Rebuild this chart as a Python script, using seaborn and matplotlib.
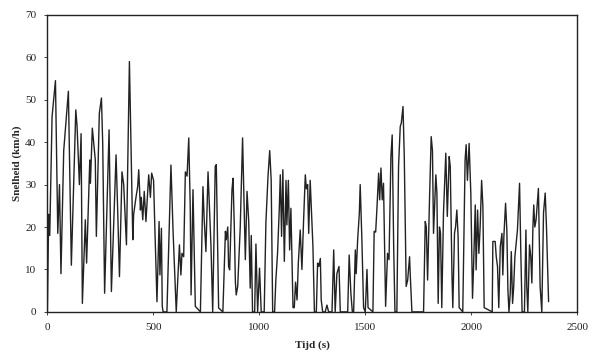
# Speed profile: Snelheid (km/h) tegen Tijd (s)
import pandas as pd
import seaborn as sns
import matplotlib.pyplot as plt

# Vertices of the trace
tijd = [0, 6, 11, 22, 38, 49, 57, 64, 77, 99, 113, 134, 140, 151, 159, 165,
        179, 185, 200, 203, 212, 226, 231, 245, 255, 261, 270, 291, 302, 324,
        332, 340, 352, 360, 373, 387, 403, 407, 418, 426, 431, 439, 443, 450,
        457, 465, 478, 486, 492, 501, 506, 517, 527, 531, 538, 542, 546, 564,
        583, 593, 608, 623, 630, 635, 643, 651, 659, 667, 674, 678, 687, 698,
        722, 734, 740, 748, 758, 766, 772, 780, 792, 797, 808, 828, 840, 844,
        851, 855, 860, 871, 876, 882, 887, 891, 898, 910, 921, 934, 942, 950,
        957, 962, 968, 978, 984, 992, 1001, 1009, 1023, 1031, 1041, 1049, 1056,
        1063, 1072, 1078, 1086, 1094, 1099, 1105, 1111, 1118, 1126, 1130, 1137,
        1143, 1149, 1159, 1165, 1171, 1178, 1184, 1193, 1201, 1209, 1217, 1222,
        1228, 1233, 1240, 1248, 1253, 1260, 1269, 1275, 1281, 1288, 1292, 1299,
        1311, 1319, 1327, 1343, 1351, 1358, 1366, 1376, 1382, 1417, 1424, 1432,
        1439, 1445, 1453, 1457, 1464, 1472, 1476, 1484, 1492, 1500, 1508, 1513,
        1536, 1542, 1549, 1555, 1563, 1568, 1574, 1580, 1586, 1596, 1605, 1612,
        1621, 1627, 1634, 1640, 1649, 1657, 1665, 1670, 1678, 1684, 1693, 1700,
        1709, 1712, 1720, 1775, 1783, 1788, 1794, 1803, 1811, 1817, 1822, 1833,
        1838, 1844, 1850, 1855, 1861, 1869, 1880, 1887, 1896, 1901, 1909, 1913,
        1921, 1926, 1932, 1938, 1943, 1960, 1971, 1976, 1982, 1990, 1998, 2006,
        2011, 2019, 2023, 2030, 2036, 2042, 2049, 2055, 2061, 2099, 2102, 2113,
        2118, 2124, 2130, 2137, 2145, 2149, 2154, 2162, 2168, 2173, 2178, 2184,
        2189, 2195, 2200, 2206, 2212, 2218, 2228, 2234, 2240, 2251, 2258, 2262,
        2267, 2275, 2281, 2286, 2291, 2295, 2300, 2306, 2317, 2325, 2333, 2341,
        2349, 2355, 2365]
snelheid = [0, 23, 18, 46, 54.5, 18.5, 30, 9, 38, 52, 11, 47.6, 43.7, 30, 42, 2,
            21.7, 11.5, 35.8, 30.3, 43.3, 35.8, 17.8, 46.8, 50.4, 39.7, 4.4, 42.9, 4.8, 37,
            23.3, 8.3, 33, 30, 15.8, 59, 17, 23, 27, 29.5, 33.5, 24, 27, 21.7,
            28.4, 21.3, 32.3, 27, 32.7, 31, 21.7, 2.4, 21.3, 8.7, 19.7, 1.3, 0, 0,
            34.6, 19, 0, 15.8, 8.7, 13.8, 13, 33, 32, 41, 24.8, 4, 28.8, 1.3,
            0, 29.5, 21.7, 14.2, 33, 23.2, 15.4, 0, 34.3, 34.7, 0.9, 0, 19, 17,
            20, 10.7, 9.9, 28.8, 31.5, 20, 7.1, 4, 6, 20, 41, 12.3, 28.4, 21.3,
            5.6, 18, 0, 0, 16, 0, 10.3, 0, 0, 21, 32, 38, 31,
            0, 0, 7.5, 13.8, 24, 32.3, 17.8, 33.5, 11.9, 31, 20.5, 31,
            14.6, 24.4, 1, 1, 7, 2.8, 11.5, 19.3, 10, 21.7, 32.3, 29,
            30, 18.5, 31, 21.7, 15.4, 0, 0, 11.5, 10.7, 12.6, 2.8, 0,
            0, 1.6, 0, 0, 14.6, 0, 9, 10.7, 0, 0, 13.4, 4.4,
            0, 0, 14.6, 9, 17, 23.3, 30, 17, 1, 0, 10, 1,
            0, 19, 18.8, 24.4, 32.7, 26.4, 33.9, 26.4, 30.3, 1.3, 13.8, 12.3,
            36.6, 41.7, 15.4, 0, 0, 34.3, 43.7, 44.5, 48.4, 36.6, 6, 7.5,
            13, 9, 0, 0, 21.3, 20, 7.5, 26.4, 41.3, 38, 18.5, 32.3,
            28, 2, 20, 18.5, 1, 23.3, 37.4, 22.5, 36.6, 34.2, 9, 1,
            18.5, 20, 24, 17.8, 1, 0, 35.8, 39.4, 31, 39.7, 28, 3.2,
            10.7, 25.2, 9.9, 24, 13.8, 20, 31, 24.8, 1, 0, 16.6, 16.6,
            13, 10.7, 1, 15.4, 18.5, 8.7, 17.8, 25.6, 19.3, 5.2, 0, 4.4,
            14.2, 2, 5.6, 13, 16.2, 19.3, 30.3, 13.8, 0, 0, 19.3, 6,
            0, 15.8, 13, 6.8, 20, 25.2, 20, 21.7, 29.1, 6, 0, 23.3,
            28, 20, 2.4]

df = pd.DataFrame({"Tijd": tijd, "Snelheid": snelheid})

sns.set_style("white")
plt.rcParams["font.family"] = ["Liberation Serif", "DejaVu Serif"]

fig, ax = plt.subplots(figsize=(6, 3.54), dpi=100)
fig.subplots_adjust(left=0.079, right=0.962, bottom=0.119, top=0.958)

sns.lineplot(data=df, x="Tijd", y="Snelheid", color="#222222", linewidth=1.0,
             estimator=None, sort=False, ax=ax)

ax.set_xlim(0, 2500)
ax.set_ylim(0, 70)
ax.set_xticks(range(0, 2501, 500))
ax.set_yticks(range(0, 71, 10))
ax.tick_params(axis="both", labelsize=8, length=2, width=0.6, direction="out",
               colors="#222222", pad=6)
ax.tick_params(axis="both", bottom=True, left=True)

for side in ax.spines.values():
    side.set_visible(True)
    side.set_color("#222222")
    side.set_linewidth(1.0)

ax.set_xlabel("Tijd (s)", fontsize=8, fontweight="bold", labelpad=6)
ax.set_ylabel("Snelheid (km/h)", fontsize=8, fontweight="bold", labelpad=2)

plt.savefig("out.png", dpi=100)
